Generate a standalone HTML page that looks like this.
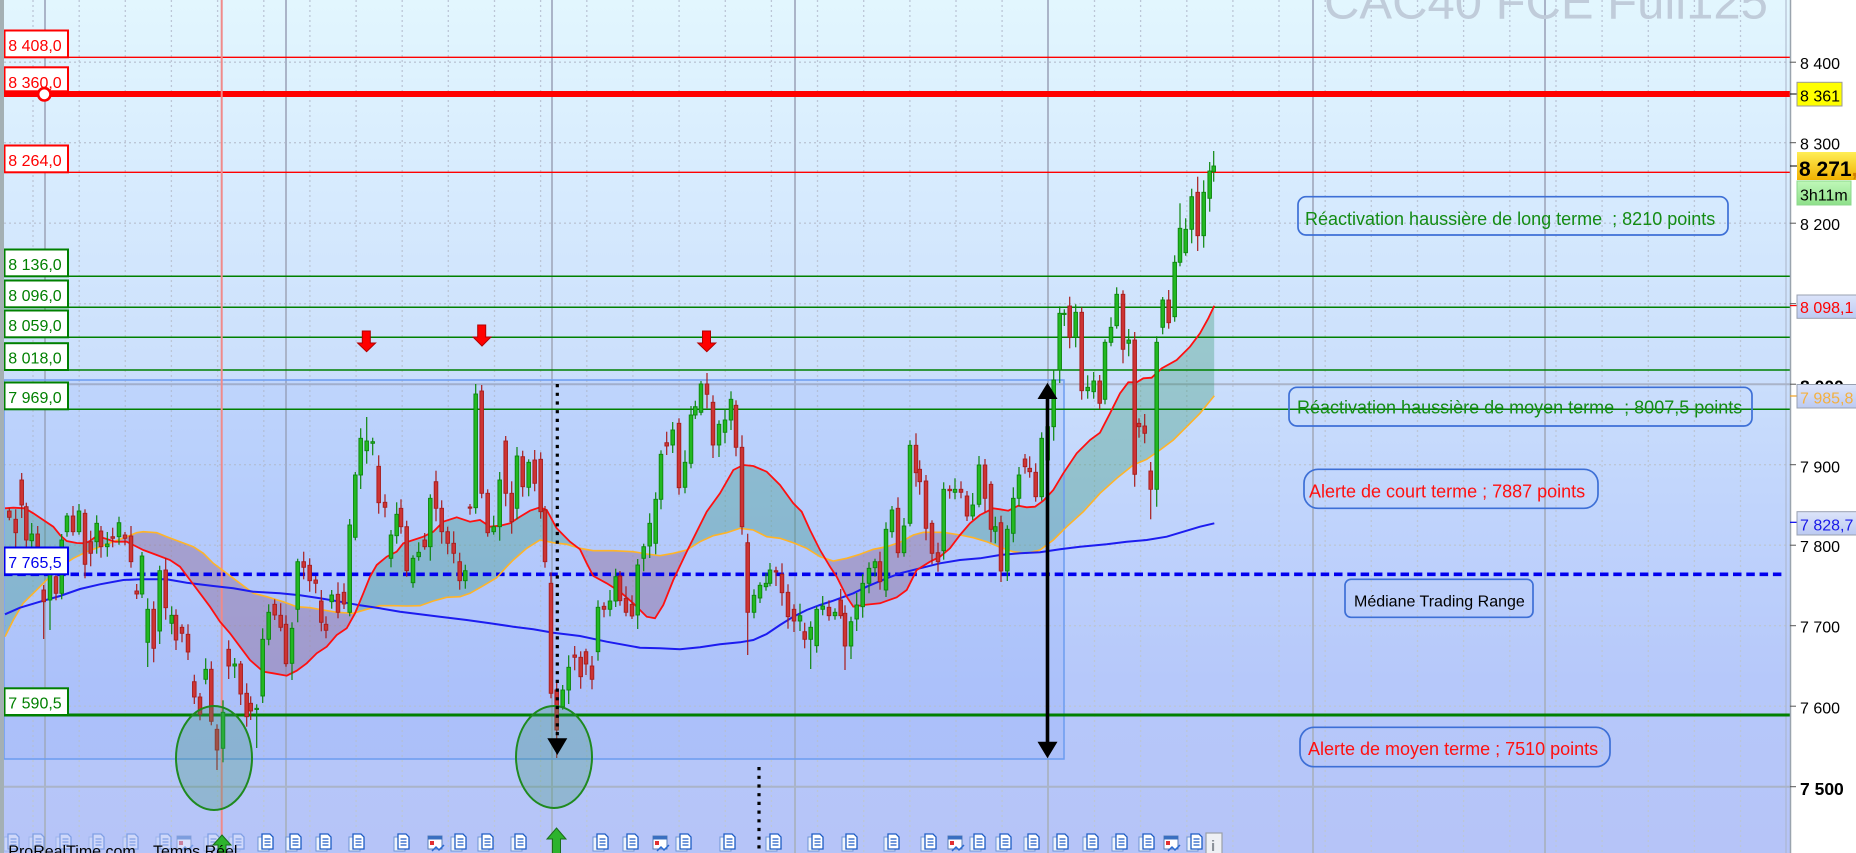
<!DOCTYPE html>
<html><head><meta charset="utf-8">
<style>
html,body{margin:0;padding:0;width:1856px;height:853px;overflow:hidden;background:#fff;}
svg{display:block;font-family:"Liberation Sans",Arial,sans-serif;}
</style></head><body>
<svg id="s" width="1856" height="853" viewBox="0 0 1856 853" xmlns="http://www.w3.org/2000/svg">
<defs>
<linearGradient id="bg" x1="0" y1="0" x2="0" y2="1">
<stop offset="0" stop-color="#e2f6fe"/>
<stop offset="0.2" stop-color="#d8ecfe"/>
<stop offset="0.42" stop-color="#cce0fc"/>
<stop offset="0.6" stop-color="#c0d4fc"/>
<stop offset="0.8" stop-color="#b6c8fa"/>
<stop offset="1" stop-color="#b6c4f8"/>
</linearGradient>
<linearGradient id="gold" x1="0" y1="0" x2="0" y2="1"><stop offset="0" stop-color="#ffee55"/><stop offset="1" stop-color="#f0b000"/></linearGradient>
<linearGradient id="lgr" x1="0" y1="0" x2="0" y2="1"><stop offset="0" stop-color="#bff8b8"/><stop offset="1" stop-color="#8ee08a"/></linearGradient>
<linearGradient id="lbl" x1="0" y1="0" x2="0" y2="1"><stop offset="0" stop-color="#dce4fa"/><stop offset="1" stop-color="#bccaf2"/></linearGradient>
<clipPath id="plot"><rect x="4" y="0" width="1786" height="853"/></clipPath>
</defs>
<rect x="0" y="0" width="1790" height="853" fill="url(#bg)"/>
<g clip-path="url(#plot)">
<g id="grid" stroke="#bcc6d6" stroke-width="1.3" stroke-dasharray="2 3" fill="none"></g>
<g stroke="#aab4c8" stroke-width="2">
<line x1="45" y1="0" x2="45" y2="853"/><line x1="286" y1="0" x2="286" y2="853"/><line x1="552" y1="0" x2="552" y2="853"/><line x1="795" y1="0" x2="795" y2="853"/><line x1="1048" y1="0" x2="1048" y2="853"/><line x1="1313" y1="0" x2="1313" y2="853"/><line x1="1545" y1="0" x2="1545" y2="853"/>
<line x1="4" y1="384.2" x2="1790" y2="384.2"/><line x1="4" y1="786.7" x2="1790" y2="786.7"/>
</g>
<line x1="1786" y1="0" x2="1786" y2="853" stroke="#aab4c8" stroke-width="1"/>
<text x="1324" y="18.3" font-size="49" fill="#c0ccda">CAC40 FCE Full125</text>
<g id="fills"></g>
<rect x="4" y="380" width="1060" height="379" fill="rgb(70,120,250)" fill-opacity="0.08" stroke="#6c9cf0" stroke-width="1.5"/>
<!-- level lines -->
<line x1="4" y1="57.3" x2="1790" y2="57.3" stroke="#ff0000" stroke-width="1.4"/>
<line x1="4" y1="94" x2="1790" y2="94" stroke="#ff0000" stroke-width="6"/>
<line x1="4" y1="172.3" x2="1790" y2="172.3" stroke="#ff0000" stroke-width="1.4"/>
<g stroke="#008000" stroke-width="1.5">
<line x1="4" y1="276.3" x2="1790" y2="276.3"/><line x1="4" y1="307.3" x2="1790" y2="307.3"/><line x1="4" y1="337.3" x2="1790" y2="337.3"/><line x1="4" y1="370" x2="1790" y2="370"/><line x1="4" y1="409.3" x2="1790" y2="409.3"/>
</g>
<line x1="4" y1="715" x2="1790" y2="715" stroke="#008000" stroke-width="3"/>
<line x1="4" y1="574.3" x2="1786" y2="574.3" stroke="#0000ee" stroke-width="3.6" stroke-dasharray="8.5 4.8"/>
<line x1="221.7" y1="0" x2="221.7" y2="853" stroke="#f08a8a" stroke-width="2"/>
<g id="mas"></g>
<g id="candles"></g>
<ellipse cx="214" cy="758" rx="38" ry="52" fill="rgb(60,150,120)" fill-opacity="0.3" stroke="#1f8a1f" stroke-width="2"/>
<ellipse cx="554" cy="757" rx="38" ry="51" fill="rgb(60,150,120)" fill-opacity="0.3" stroke="#1f8a1f" stroke-width="2"/>
<!-- red signal arrows -->
<g fill="#ff0000" stroke="#b00000" stroke-width="1">
<path d="M362.3,331h8v12h5.3l-9,8.7l-9,-8.7h4.7z"/>
<path d="M477.7,325h8v12h5.3l-9,9l-9,-9h4.7z"/>
<path d="M702.5,331h8v12h5.3l-9,8.7l-9,-8.7h4.7z"/>
</g>
<!-- black arrows -->
<line x1="1047.5" y1="396" x2="1047.5" y2="744" stroke="#000" stroke-width="3.6"/>
<path d="M1047.5,382.7L1057.5,399L1037.5,399Z" fill="#000"/>
<path d="M1047.5,758.3L1057.5,741.7L1037.5,741.7Z" fill="#000"/>
<line x1="557.3" y1="384" x2="557.3" y2="740" stroke="#000" stroke-width="3.2" stroke-dasharray="3.2 5.5"/>
<path d="M557.3,755L567.3,738.3L547.3,738.3Z" fill="#000"/>
<line x1="759" y1="767" x2="759" y2="853" stroke="#000" stroke-width="3.2" stroke-dasharray="3.2 5.5"/>
<!-- right text boxes -->
<g fill="none" stroke="#3d6fd6" stroke-width="1.7">
<rect x="1298" y="196.7" width="430" height="38.3" rx="8"/>
<rect x="1289" y="387.3" width="463" height="38.7" rx="8"/>
<rect x="1304" y="469.3" width="294" height="39" rx="14"/>
<rect x="1345" y="579.3" width="188" height="38" rx="6"/>
<rect x="1300" y="727.3" width="310" height="39.4" rx="14"/>
</g>
<g font-size="18">
<text x="1305" y="225" fill="#148c14" xml:space="preserve">Réactivation haussière de long terme  ; 8210 points</text>
<text x="1297" y="413.3" fill="#148c14" xml:space="preserve">Réactivation haussière de moyen terme  ; 8007,5 points</text>
<text x="1309" y="497.3" fill="#ff1010">Alerte de court terme ; 7887 points</text>
<text x="1354" y="606.7" fill="#000" font-size="16">Médiane Trading Range</text>
<text x="1308" y="755" fill="#ff1010">Alerte de moyen terme ; 7510 points</text>
</g>
<g id="icons"></g>
<!-- green up arrows -->
<g fill="#2db32d" stroke="#1a6e1a" stroke-width="1">
<path d="M222,835L231,845H226V860H218V845H213Z"/>
<path d="M556.5,828L566,839H560.5V860H552.5V839H547Z"/>
</g>
<text x="8.3" y="856.5" font-size="16" fill="#000">ProRealTime.com</text>
<text x="153" y="856.5" font-size="16" fill="#000">Temps Réel</text>
<!-- left labels -->
<g stroke-width="2" fill="#fff">
<rect x="4.5" y="30.5" width="63.5" height="26.8" stroke="#ff0000"/>
<rect x="4.5" y="67.3" width="63.5" height="24" stroke="#ff0000"/>
<rect x="4.5" y="145.5" width="63.5" height="26.8" stroke="#ff0000"/>
<rect x="4.5" y="249.5" width="63.5" height="26.8" stroke="#008000"/>
<rect x="4.5" y="280.5" width="63.5" height="26.8" stroke="#008000"/>
<rect x="4.5" y="310.5" width="63.5" height="26.8" stroke="#008000"/>
<rect x="4.5" y="343.2" width="63.5" height="26.8" stroke="#008000"/>
<rect x="4.5" y="382.5" width="63.5" height="26.8" stroke="#008000"/>
<rect x="4.5" y="547.5" width="63.5" height="26.8" stroke="#0000ee"/>
<rect x="4.5" y="688.3" width="63.5" height="26.7" stroke="#008000"/>
</g>
<line x1="4" y1="94" x2="70" y2="94" stroke="#ff0000" stroke-width="6"/>
<g font-size="16">
<text x="8.3" y="51" fill="#ff0000">8 408,0</text>
<text x="8.3" y="88" fill="#ff0000">8 360,0</text>
<text x="8.3" y="166" fill="#ff0000">8 264,0</text>
<text x="8.3" y="270" fill="#008000">8 136,0</text>
<text x="8.3" y="301" fill="#008000">8 096,0</text>
<text x="8.3" y="331" fill="#008000">8 059,0</text>
<text x="8.3" y="363.7" fill="#008000">8 018,0</text>
<text x="8.3" y="403" fill="#008000">7 969,0</text>
<text x="8.3" y="568" fill="#0000ee">7 765,5</text>
<text x="8.3" y="708.7" fill="#008000">7 590,5</text>
</g>
<circle cx="44.3" cy="94.3" r="6.2" fill="#fff" stroke="#ff0000" stroke-width="2.6"/>
</g>
<rect x="0" y="0" width="4" height="853" fill="#a4b0b4"/>
<!-- right axis -->
<rect x="1791" y="0" width="65" height="853" fill="#fff"/>
<line x1="1790.5" y1="0" x2="1790.5" y2="853" stroke="#9aa4ae" stroke-width="1.5"/>
<g stroke="#555" stroke-width="1">
<line x1="1790" y1="62.2" x2="1796" y2="62.2"/><line x1="1790" y1="142.7" x2="1796" y2="142.7"/><line x1="1790" y1="223.2" x2="1796" y2="223.2"/><line x1="1790" y1="303.7" x2="1796" y2="303.7"/><line x1="1790" y1="384.2" x2="1796" y2="384.2"/><line x1="1790" y1="464.7" x2="1796" y2="464.7"/><line x1="1790" y1="545.2" x2="1796" y2="545.2"/><line x1="1790" y1="625.7" x2="1796" y2="625.7"/><line x1="1790" y1="706.2" x2="1796" y2="706.2"/><line x1="1790" y1="786.7" x2="1796" y2="786.7"/>
<line x1="1790" y1="94" x2="1797" y2="94" stroke="#000"/><line x1="1790" y1="166" x2="1797" y2="166" stroke="#000"/>
</g>
<line x1="1790" y1="305.6" x2="1797" y2="305.6" stroke="#ff0000" stroke-width="1.2"/>
<line x1="1790" y1="396" x2="1797" y2="396" stroke="#f0a020" stroke-width="1.2"/>
<line x1="1790" y1="522.3" x2="1797" y2="522.3" stroke="#0000ee" stroke-width="1.2"/>
<g font-size="16" fill="#000">
<text x="1800" y="69">8 400</text>
<text x="1800" y="149.5">8 300</text>
<text x="1800" y="230">8 200</text>
<text x="1800" y="392.5" font-weight="bold" font-size="17.5">8 000</text>
<text x="1800" y="472.5">7 900</text>
<text x="1800" y="552">7 800</text>
<text x="1800" y="632.5">7 700</text>
<text x="1800" y="713.5">7 600</text>
<text x="1800" y="795" font-weight="bold" font-size="17.5">7 500</text>
</g>
<rect x="1797" y="82.3" width="45" height="23.7" fill="#ffff00" stroke="#9a9a9a" stroke-width="1"/>
<text x="1800" y="101.5" font-size="16" fill="#000">8 361</text>
<rect x="1797" y="152" width="62" height="28" fill="url(#gold)"/>
<text x="1799" y="176" font-size="21" font-weight="bold" fill="#000">8 271<tspan fill="#d08000">,5</tspan></text>
<rect x="1797" y="181" width="54" height="24" fill="url(#lgr)" stroke="#8cd88c" stroke-width="1"/>
<text x="1800" y="200.5" font-size="16" fill="#000">3h11m</text>
<rect x="1797" y="295" width="62" height="23.3" fill="url(#lbl)" stroke="#98a0b0" stroke-width="1"/>
<text x="1800" y="313" font-size="16" fill="#ff0000">8 098,1</text>
<rect x="1797" y="384.5" width="62" height="23.5" fill="url(#lbl)" stroke="#98a0b0" stroke-width="1"/>
<text x="1800" y="403.5" font-size="16" fill="#f4b040">7 985,8</text>
<rect x="1797" y="511.7" width="62" height="23.3" fill="url(#lbl)" stroke="#98a0b0" stroke-width="1"/>
<text x="1800" y="530.5" font-size="16" fill="#1818e8">7 828,7</text>
</svg>
<script>
(function(){
function add(id,h){document.getElementById(id).insertAdjacentHTML('beforeend',h);}
// grid
var g='';
for(var k=0;k<38;k++){var x=(33+46.15*k).toFixed(1);g+='<line x1="'+x+'" y1="0" x2="'+x+'" y2="853"/>';}
[62.2,142.7,223.2,303.7,464.7,545.2,625.7,706.2].forEach(function(y){g+='<line x1="4" y1="'+y+'" x2="1790" y2="'+y+'"/>';});
add('grid',g);
var R=[[5,508.3],[13.3,507.7],[25,508.3],[33.3,513.3],[43.3,520],[53.3,526.7],[60,535],[66.7,541],[76.7,543],[85,543.3],[90,541],[96.7,536],[106.7,539],[115,541.7],[126.7,541.7],[133.3,545],[143.3,550],[156.7,555],[170,560],[180,566.7],[190,580],[200,593.3],[210,606.7],[220,621.7],[230,633.3],[240,646.7],[250,660],[263.3,671.7],[273.3,673.3],[286.7,675.7],[296.7,670.7],[306.7,663.3],[316.7,653.3],[326.7,646.7],[336.7,635],[346.7,628.3],[355,613.3],[363.3,593.3],[370,576.7],[376.7,565],[386.7,556.7],[396.7,551.7],[403.3,543.3],[413.3,540],[423.3,536.7],[433.3,531.7],[443.3,521.7],[456.7,517.3],[470,521.7],[480,520],[490,526.7],[500,525.7],[510,523.3],[520,516.7],[530,510.7],[540,507.3],[546.7,510],[556.7,528.3],[570,541.7],[580,549.3],[586.7,563.3],[593.3,576],[606.7,583.3],[620,591.7],[633.3,603.3],[646.7,616.7],[655,618.3],[663.3,605],[673.3,580],[686.7,551.7],[696.7,531.7],[706.7,511.7],[720,493.3],[733.3,470],[743.3,465],[753.3,466],[766.7,471.7],[780,485],[793.3,503.3],[801.7,511.7],[810,530],[820,550],[830,566.7],[836.7,576.7],[846.7,596.7],[853.3,606.7],[863.3,605],[880,603.3],[896.7,597.3],[906.7,590],[916.7,570],[930,561.7],[940,556.7],[950,548.3],[960,535],[970,523.3],[980,515],[993.3,508.3],[1000,509.3],[1008.3,510.7],[1018.3,505.7],[1026.7,507.3],[1035,506.7],[1043.3,500.7],[1053.3,490],[1063.3,473.3],[1076.7,453.3],[1090,440],[1100,432.7],[1110,413.3],[1120,393.3],[1128.3,382.3],[1136.7,382.3],[1143.3,378.3],[1151.7,377.7],[1161.7,368.3],[1176.7,360],[1190,346.7],[1200,333.3],[1208.3,318.3],[1214.3,305.7]];
var O=[[5,636.7],[13.3,620],[23.3,603],[33.3,593.3],[43.3,583.3],[53.3,573.3],[63.3,565],[73.3,558.3],[86.7,551.7],[100,546.7],[113.3,541.7],[126.7,536.7],[136.7,532.7],[143.3,531.7],[156.7,532.7],[166.7,536.7],[180,541.7],[193.3,546.7],[203.3,553.3],[213.3,563.3],[226.7,573.3],[240,583.3],[253.3,593.3],[266.7,596.7],[283.3,601.7],[296.7,606.7],[310,607.7],[323.3,610],[336.7,612.3],[353.3,613.3],[366.7,609.3],[380,605.7],[393.3,605.7],[406.7,606],[420,605.7],[433.3,601],[446.7,597.3],[460,596.7],[470,593.3],[483.3,585.7],[496.7,577.7],[506.7,566.7],[513.3,560],[526.7,548.3],[540,540],[553.3,542.7],[566.7,544.3],[580,548.3],[593.3,550.7],[613.3,550.7],[633.3,551.7],[646.7,554],[660,555.7],[673.3,553.3],[686.7,550],[700,541.7],[713.3,535.7],[726.7,532.7],[740,528.3],[753.3,530],[766.7,536.7],[780,538.3],[793.3,542.7],[806.7,548.3],[820,556.7],[833.3,561],[846.7,558.3],[860,554.3],[873.3,549.3],[886.7,546.7],[900,542.3],[913.3,535],[923.3,532.3],[943.3,532.3],[960,535],[973.3,537.7],[986.7,541.7],[1000,547.3],[1013.3,551.7],[1026.7,553.3],[1040,550],[1053.3,540],[1066.7,526.7],[1083.3,511.7],[1100,493.3],[1116.7,478.3],[1133.3,465],[1146.7,459.3],[1160,450],[1173.3,440],[1186.7,426.7],[1200,413.3],[1214.3,395.7]];
var B=[[5,614.3],[20,607.7],[40,601.7],[60,596],[80,589],[100,584.3],[123.3,580],[140,579.3],[166.7,579.3],[186.7,582.7],[213.3,586],[233.3,588.3],[253.3,591.7],[280,593.3],[300,595.3],[320,598.3],[340,601.7],[360,605.3],[380,608.3],[400,611.7],[420,614.3],[440,616.7],[466.7,620],[490,623.3],[513.3,626.7],[533.3,629.3],[553.3,632.7],[580,636],[606.7,641.7],[640,647.7],[660,648.3],[680,649.3],[700,647.3],[720,644.3],[740,642.3],[753.3,640],[766.7,634],[780,625],[793.3,616.7],[806.7,610],[820,605],[833.3,600.7],[853.3,593.3],[866.7,586.7],[886.7,578.3],[900,573.3],[920,568.3],[940,563.3],[960,560],[980,558.3],[1000,555],[1020,553.3],[1040,552.3],[1060,549.3],[1080,546.7],[1106.7,544.3],[1126.7,541.7],[1146.7,540],[1166.7,536.7],[1186.7,530.7],[1200,526.7],[1214.3,523.3]];
function P(a){return a.map(function(p){return p[0]+','+p[1];}).join(' ');}
var Ro=P(R),Oo=P(O),Orev=P(O.slice().reverse());
var f='<clipPath id="cA"><polygon points="'+Oo+' 1214.3,0 5,0"/></clipPath><clipPath id="cB"><polygon points="'+Oo+' 1214.3,853 5,853"/></clipPath>';
f+='<polygon points="'+Ro+' '+Orev+'" fill="rgb(50,150,110)" fill-opacity="0.33" clip-path="url(#cA)"/>';
f+='<polygon points="'+Ro+' '+Orev+'" fill="rgb(150,100,135)" fill-opacity="0.42" clip-path="url(#cB)"/>';
add('fills',f);
var m='<polyline points="'+Oo+'" fill="none" stroke="#ffb428" stroke-width="1.6"/>';
m+='<polyline points="'+P(B)+'" fill="none" stroke="#1c1cf0" stroke-width="2"/>';
m+='<polyline points="'+Ro+'" fill="none" stroke="#ff1010" stroke-width="1.8"/>';
add('mas',m);
var C=[[9.3,511,517.3,0],[15.7,519.3,532.7,0],[21.7,480,505,0],[26.3,506.7,540,0],[31.7,534,540.7,1],[37.7,534,546.7,0],[43.7,590,601.7,0,0,639],[50,573.3,600,1,0,630],[56,576.7,593.3,0],[61.7,540,593.3,1],[67,516,531.7,1],[73,516,531.7,0],[79,511,531.7,1],[85,513.3,564.3,0],[90.7,541.7,553.3,0],[96.7,523.3,541.7,1],[101,531,546.7,0],[107.3,544,546.7,1],[112.7,536.7,538.3,0],[119,522.7,536.7,1],[125,535,538.3,0],[131,536,561.7,0],[136.7,591,594,0],[142,556,594,1],[147.7,609.3,642.3,1,0,667],[153.7,609.3,648.3,0],[159.7,570.7,631,1],[165.7,570,607.7,0],[171.7,615.3,623.3,1],[176,615.3,640,0],[182,627.3,633.3,0],[188,634.3,652,0],[194.3,681.7,697,0],[200,697,714.3,0],[205.7,669.3,679.3,1],[211.3,669.3,721.3,0],[217,729.3,750,0,0,770],[223,712.3,748.3,1],[228.7,649.3,666,0],[234.7,664,666,1],[240.7,664,694,0],[246.7,693.3,716.7,0],[250.7,703.3,711,0],[256.7,708.3,709,1,0,748],[262.7,639.3,696,1],[268.7,612.3,639.3,1],[274.7,604.3,615,0],[280.7,615.3,627.3,0],[286,624.3,663.7,0],[292,628.3,663.3,1,0,680],[297.7,561.7,609.3,1],[303.7,561.7,567.3,0],[309.7,565.3,580.7,0],[315.7,580,583.3,0],[321.3,601,622.3,0],[326,624.3,630.3,0],[331.7,595,601.7,1],[338,594.3,612.3,0],[344,592.3,604,0],[349.7,525,612.3,1],[355.3,475,537.3,1],[360.7,438.3,475,1],[366.7,441,450.7,1,417],[372.7,441.7,443.3,1],[378.7,466.3,502.7,0],[385,502.3,507.3,0],[391,535,558.3,1],[396.7,514.3,535.7,1],[401,508.3,526.7,0],[406.7,526.7,570.7,0],[413,558.3,582.7,1],[418.7,552.3,556.7,1],[424.7,540,546.7,0],[430.3,498.3,546.7,1],[436,481.7,508.3,0],[441.7,508.3,531.7,0],[447.7,531.7,543.3,0],[453.7,543.3,553.3,0],[459.7,561.7,580.7,0],[465.3,570.7,580.7,1],[470,507,507.7,0],[475.7,394,507.7,1],[481.7,391,493.3,0,385],[487.7,493.3,532.7,0],[493.7,526.7,531.7,1],[499.7,480,526.7,1],[505.7,441,493.3,0],[511.7,493.3,521.7,0],[517,456,508.3,1],
[522.7,456.7,486.7,0],[528.7,462.3,487.3,1],[534.7,460,483.3,0],[540.7,459.3,511.7,0],[545,510,561.7,0],[551,583.3,693.3,0],[556.7,690,730,0,0,758],[562.7,690,706.7,1],[568.7,667.3,690,1],[574.7,655,657.3,0],[580.7,657.3,676.7,0],[586,651.7,664,0],[592,666,679.3,0],[598,607.3,651.7,1],[604,606.3,609.3,0],[610,601,609.3,1],[615.7,576.7,601,1],[620,576,600.7,0],[626,598.3,612.3,0],[632,604.3,616,0],[637.7,565,615,1],[643.7,546.7,558.3,1],[649.7,523.3,546,1],[655.7,499.3,543.3,1],[661,454.3,499.3,1],[666.7,442.7,446,0],[672.7,430,445,1],[679,423.3,487.7,0],[685,462.3,487.3,1],[691,415,463.3,1],[695.3,406.7,415,1],[701,384,412.3,1],[707,384,394.3,0,373],[713,402.3,445,0],[719,424.3,445,1],[725,420,432.3,1],[731,399.3,420,1],[736,405.3,447.3,0],[742,447.3,526.7,0],[747.7,542.7,612.3,0,0,655],[754,595.3,612.3,1],[760,585.3,598,1],[766,583.3,586.7,1],[770,570,583.3,1],[776,570.7,572,0],[782,574.3,592.7,0],[788,592.3,616.7,0],[794,609.3,621,0],[800,615.7,621,1],[804.7,631.7,639.3,0],[810.7,627.3,639.3,1,0,669],[816.7,609.3,645.7,1],[822.7,606,609.3,1],[829,607.3,615.7,0],[835,612.3,615.7,1],[840.7,600,615.7,0],[845,613.3,646,0,0,670],[851,621.7,646,1],[856.7,605,619,1],[862.7,583.3,606.7,1],[869,568.3,583.3,1],[875,561.7,567.7,1],[880,561.7,581.7,0],[886,529.3,590,1],[892,510,531.7,1],[898,508.3,552.7,0],[904,526,552.7,1],[910,445.3,523.3,1],[916,445.3,472.7,0],[919.7,469.3,481.7,0],[926,481,528.3,0],[932,523.3,553.3,0],[938,552.7,561.7,0],[943.7,489.3,550.7,1],[949.7,489.3,490.7,0],[955,489.3,492.3,1],[961,489.3,492.3,0],[967,496,516,0],[972.7,505,516,1],[979,465,504.3,1],[985,465,498.3,0],[991,484.3,529.3,0],[995.3,526.7,531.3,1],[1001,522.7,571,0],[1007.3,529.3,571,1],[1013.3,498.3,533.3,1],[1019,475,498.3,1],
[1025,459,466.7,0],[1029.7,468.3,471.7,0],[1035.7,472.3,496.7,0],[1041.7,438.3,496.7,1],[1047.7,426.7,460,1],[1053.7,380,426.7,1],[1059.7,313.3,370,1],[1064.3,313.3,314,1],[1069.7,306,337.3,0,296.7],[1075.7,312.3,337.3,1],[1081.7,312.3,390.7,0],[1087.7,387.3,390.7,1],[1093.7,381,391.7,1],[1099.7,381,403.3,0],[1105,342.3,399.3,1],[1111,327.3,342.3,1],[1116.7,294.3,325.7,1],[1123,294.3,349.3,0],[1128.7,340,343.3,1],[1134.7,340,474.3,0,0,486.7],[1139,423.3,426.7,0],[1144.7,426,433.3,0],[1150.7,471,489.3,0,0,519.3],[1156.7,342.3,489.3,1,0,506.7],[1162.7,300,327.3,1],[1168.7,300,322.7,0],[1174.7,262.3,316.7,1],[1180,228.3,262.3,1,203.3],[1185.7,229.3,252.7,1],[1191.7,196.7,229.3,1],[1197.7,192.3,235.7,0,176.7,251],[1203.7,192.3,235.7,1],[1209.7,171,198.3,1,0,211.7],[1213.7,166,171.7,1,151]];
var cw='',cb='';
C.forEach(function(c,i){var x=c[0],t=c[1],b=c[2],gr=c[3];var wt=c[4]||(t-(3+(i*7)%10));var wb=c[5]||(b+(3+(i*11)%12));
var col=gr?'#0c860c':'#a81c1c',fill=gr?'#22b822':'#cc3434';
cw+='<line x1="'+x+'" y1="'+wt+'" x2="'+x+'" y2="'+wb+'" stroke="'+col+'" stroke-width="1.2"/>';
cb+='<rect x="'+(x-1.8).toFixed(1)+'" y="'+t+'" width="3.6" height="'+Math.max(b-t,1.2).toFixed(1)+'" fill="'+fill+'" stroke="'+col+'" stroke-width="0.9"/>';});
add('candles',cw+cb);
function doc(x,y,op){return '<g opacity="'+op+'"><path d="M'+(x-4)+','+(y+3)+'h8l3,3v11h-11z" fill="#eef3fb" stroke="#6f95d6" stroke-width="1"/><path d="M'+x+','+y+'h8l3,3v12h-11z" fill="#fff" stroke="#1d5cc4" stroke-width="1.3"/><path d="M'+(x+2.5)+','+(y+5)+'h6M'+(x+2.5)+','+(y+8)+'h6M'+(x+2.5)+','+(y+11)+'h6" stroke="#1d5cc4" stroke-width="1.2"/></g>';}
function cal(x,y,op){return '<g opacity="'+op+'"><rect x="'+x+'" y="'+(y+2)+'" width="14" height="13" fill="#fff" stroke="#5a7fb8"/><rect x="'+x+'" y="'+(y+2)+'" width="14" height="3.5" fill="#3a6fc0"/><rect x="'+(x+2)+'" y="'+(y+7)+'" width="4" height="4" fill="#e23030"/><path d="M'+(x+4)+','+(y+17)+'l4,-4l3,3l5,-5" fill="none" stroke="#2a6ad0" stroke-width="1.5"/></g>';}
var docs=[8,33,60,93,127,160,208,233,262,290,320,353,398,455,482,515,597,627,680,724,770,812,846,888,925,974,1000,1028,1057,1087,1116,1143,1191];
var cals=[177,428,653,948,1164];
var ic='';
docs.forEach(function(x){ic+=doc(x,834,x<250?0.35:1);});
cals.forEach(function(x){ic+=cal(x,834,x<250?0.45:1);});
ic+='<rect x="1206" y="833" width="16" height="22" fill="#eef0f4" stroke="#9aa0a8" stroke-width="1.2"/><text x="1211" y="851" font-size="15" font-weight="bold" fill="#8a9098">i</text>';
add('icons',ic);
})();
</script>
</body></html>
